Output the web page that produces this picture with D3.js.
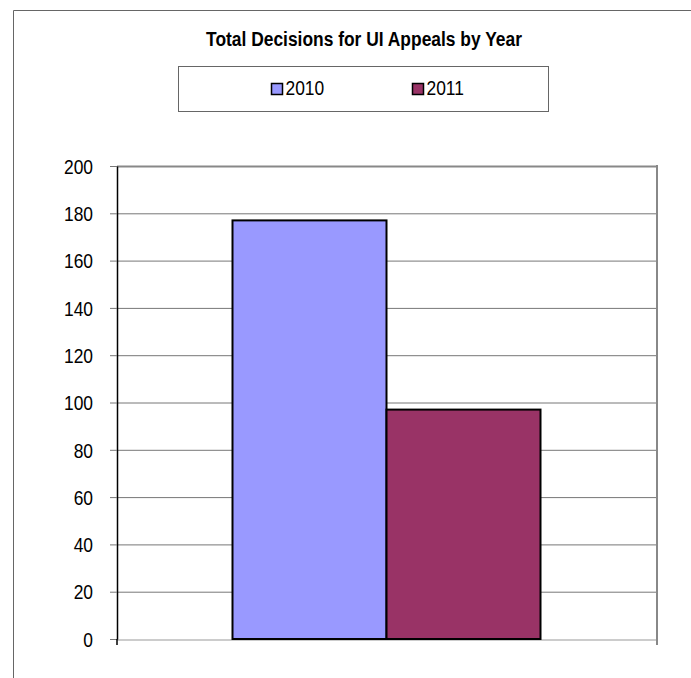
<!DOCTYPE html>
<html><head><meta charset="utf-8">
<script src="https://cdn.jsdelivr.net/npm/d3@7"></script>
<style>body{margin:0;background:#fff;} svg{display:block;} text{font-family:"Liberation Sans",Arial,sans-serif;}</style>
</head><body><svg id="c" width="691" height="678"></svg>
<script>
const categories = ["Total"];
const seriesNames = ["2010", "2011"];
const seriesValues = [177, 97];
const colors = ["#9999FF", "#993366"];
const yTicks = [0, 20, 40, 60, 80, 100, 120, 140, 160, 180, 200];

const svg = d3.select("#c");
// outer border
svg.append("path").attr("d", "M13.5,678 L13.5,10.5 L691,10.5").attr("fill","none").attr("stroke","#666").attr("stroke-width",1);

const m = {l:117, r:656, t:166, b:639};
const y = d3.scaleLinear().domain([0,200]).range([m.b, m.t]);
const x0 = d3.scaleBand().domain(categories).range([m.l, m.r]).paddingInner(0).paddingOuter(0.75/2);
const x1 = d3.scaleBand().domain(seriesNames).range([0, x0.bandwidth()]);

// gridlines
svg.append("g").selectAll("line").data(yTicks.filter(d=>d>0)).join("line")
  .attr("x1", m.l).attr("x2", m.r).attr("y1", d=>y(d)+0.5).attr("y2", d=>y(d)+0.5)
  .attr("stroke", d=> d===200 ? "#888" : "#777").attr("stroke-width", d=> d===200?2:1);

// right border of plot
svg.append("line").attr("x1", m.r+1).attr("x2", m.r+1).attr("y1", m.t-1).attr("y2", m.b+6).attr("stroke","#888").attr("stroke-width",2);
svg.append("line").attr("x1", m.l).attr("x2", m.r).attr("y1", m.b+1).attr("y2", m.b+1).attr("stroke","#999").attr("stroke-width",1);

// bars
svg.append("g").selectAll("rect").data(seriesValues).join("rect")
  .attr("x", (d,i)=>x0(categories[0]) + x1(seriesNames[i]))
  .attr("y", d=>y(d))
  .attr("width", x1.bandwidth())
  .attr("height", d=>m.b - y(d))
  .attr("fill", (d,i)=>colors[i]).attr("stroke","#000").attr("stroke-width",2);

// y axis
const ax = svg.append("g").attr("transform", `translate(${m.l},0)`)
  .call(d3.axisLeft(y).tickValues(yTicks).tickSize(7).tickPadding(17).tickSizeOuter(0));
ax.select(".domain").attr("stroke","#000").attr("stroke-width",1.5);
ax.selectAll(".tick line").attr("stroke","#777");
ax.selectAll(".tick text").attr("font-size", 20).attr("fill","#000").attr("font-family",'"Liberation Sans",Arial,sans-serif').attr("dy","0.36em");
// small tick below axis
svg.append("line").attr("x1", m.l).attr("x2", m.l).attr("y1", m.b).attr("y2", m.b+6).attr("stroke","#000").attr("stroke-width",1.5);

// title
svg.append("text").attr("x", 364).attr("y", 45.5).attr("text-anchor","middle")
  .attr("font-size", 20).attr("font-weight","bold").text("Total Decisions for UI Appeals by Year");

// legend
svg.append("rect").attr("x",178.5).attr("y",66.5).attr("width",370).attr("height",45).attr("fill","#fff").attr("stroke","#666");
const legX = [271.5, 412.5];
seriesNames.forEach((s,i)=>{
  svg.append("rect").attr("x",legX[i]).attr("y",83.5).attr("width",11).attr("height",11).attr("fill",colors[i]).attr("stroke","#000").attr("stroke-width",1.5);
  svg.append("text").attr("x",legX[i]+14).attr("y",95).attr("font-size",20).text(s);
});

// condense all text to mimic a narrow face
svg.selectAll("text").each(function(){
  const w = this.getComputedTextLength();
  d3.select(this).attr("textLength", w*0.87).attr("lengthAdjust","spacingAndGlyphs");
});
</script></body></html>
